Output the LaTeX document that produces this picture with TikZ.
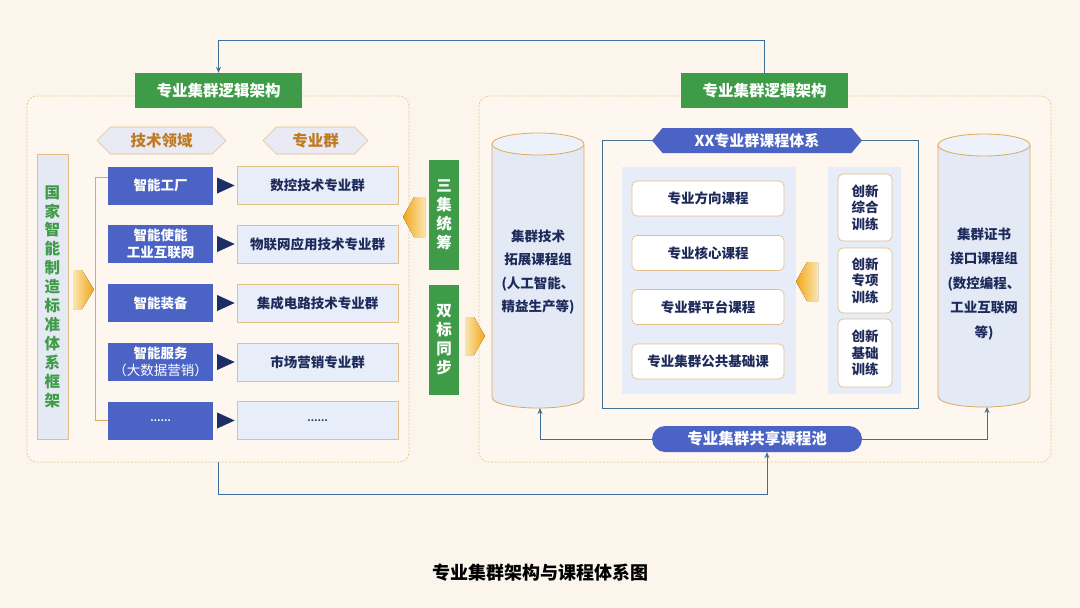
\documentclass[tikz,border=0pt]{standalone}
\usepackage{fontspec}
\setmainfont{Noto Sans CJK SC}
\usetikzlibrary{shapes.symbols,shapes.misc,arrows.meta,calc}
\definecolor{bg}{HTML}{FCF5EB}
\definecolor{panelbg}{HTML}{FDF7EF}
\definecolor{dashc}{HTML}{EBC690}
\definecolor{gr}{HTML}{3E9B48}
\definecolor{bl}{HTML}{4A63C4}
\definecolor{navy}{HTML}{1E2A5A}
\definecolor{tri}{HTML}{1B2E66}
\definecolor{lt}{HTML}{E8EEF9}
\definecolor{tanc}{HTML}{E3BE86}
\definecolor{hexfill}{HTML}{E9EAF4}
\definecolor{hextext}{HTML}{C07B22}
\definecolor{connc}{HTML}{3E6F9C}
\definecolor{framec}{HTML}{45708F}
\definecolor{innerbg}{HTML}{E6EDF8}
\definecolor{cylbd}{HTML}{E2A85A}
\definecolor{cylfill}{HTML}{E3EAF6}
\definecolor{cyltop}{HTML}{EDF1F9}
\definecolor{natfill}{HTML}{E4E9F3}
\definecolor{orA}{HTML}{FBE6B0}
\definecolor{orB}{HTML}{F2A516}
\tikzset{
  fs/.style={font=\bfseries\fontsize{#1}{#1}\selectfont},
  greenlab/.style={fill=gr,text=white,fs=15.5,minimum width=167pt,minimum height=35pt,inner sep=0pt},
  panel/.style={draw=dashc,dashed,dash pattern=on 2pt off 1.5pt,line width=0.7pt,fill=panelbg,rounded corners=10pt,inner sep=0pt},
  hexlab/.style={signal,signal to=west and east,fill=hexfill,draw=tanc,line width=0.6pt,text=hextext,fs=15.5,inner sep=0pt},
  bluebox/.style={fill=bl,text=white,fs=13.5,minimum width=105pt,minimum height=38pt,inner sep=0pt,align=center},
  grpbox/.style={fill=lt,draw=tanc,line width=0.7pt,text=navy,fs=13.5,minimum width=161pt,minimum height=38pt,inner sep=0pt},
  vgreen/.style={fill=gr,text=white,font=\bfseries\fontsize{15.5}{19}\selectfont,minimum width=30pt,minimum height=110pt,inner sep=0pt,align=center},
  coursebox/.style={fill=white,draw=tanc,line width=0.7pt,rounded corners=5pt,text=navy,fs=13.5,minimum width=152pt,minimum height=35pt,inner sep=0pt},
  innov/.style={fill=white,draw=tanc,line width=0.7pt,rounded corners=5pt,text=navy,font=\bfseries\fontsize{13.5}{16.5}\selectfont,minimum width=54pt,inner sep=0pt,align=center},
  cyltext/.style={text=navy,font=\bfseries\fontsize{13.5}{23.5}\selectfont,align=center},
  conn/.style={draw=connc,line width=0.9pt,-{Stealth[length=6pt,width=5pt]}},
  brk/.style={draw=cylbd,line width=0.7pt},
  chevR/.style={left color=orA,right color=orB,draw=none},
  chevL/.style={left color=orB,right color=orA,draw=none},
}
\begin{document}
\begin{tikzpicture}[x=1pt,y=-1pt]
\useasboundingbox (0,0) rectangle (1080,608);
\fill[bg] (0,0) rectangle (1080,608);

% panels
\node[panel,minimum width=382pt,minimum height=366pt] (lpanel) at (218,279) {};
\node[panel,minimum width=572pt,minimum height=366pt] (rpanel) at (765,279) {};

% top labels
\node[greenlab] (llab) at (218.5,90.5) {专业集群逻辑架构};
\node[greenlab] (rlab) at (764.5,90.5) {专业集群逻辑架构};

% header hexagons
\node[hexlab,minimum width=129pt,minimum height=27pt] (h1) at (161.5,140.5) {技术领域};
\node[hexlab,minimum width=105pt,minimum height=27pt] (h2) at (315.5,140.5) {专业群};

% national standard box
\node[fill=natfill,draw=tanc,line width=0.7pt,minimum width=31pt,minimum height=285pt,inner sep=0pt,
      text=gr,font=\bfseries\fontsize{15.5}{18.9}\selectfont,align=center] (natl) at (52.5,296.5)
      {国\\家\\智\\能\\制\\造\\标\\准\\体\\系\\框\\架};
\fill[chevR] (73,270) -- (82,270) -- (94,289.5) -- (82,309) -- (73,309) -- cycle;

% technology fields and groups
\node[bluebox] (b1) at (160.5,185.5) {智能工厂};
\node[bluebox,font=\bfseries\fontsize{13.5}{16.5}\selectfont] (b2) at (160.5,244) {智能使能\\工业互联网};
\node[bluebox] (b3) at (160.5,303) {智能装备};
\node[bluebox,font=\bfseries\fontsize{13.5}{16.5}\selectfont] (b4) at (160.5,362) {智能服务\\{\mdseries （大数据营销）}};
\node[bluebox,fs=9] (b5) at (160.5,420.5) {……};
\node[grpbox] (r1) at (317.5,185.5) {数控技术专业群};
\node[grpbox] (r2) at (317.5,244) {物联网应用技术专业群};
\node[grpbox] (r3) at (317.5,303) {集成电路技术专业群};
\node[grpbox] (r4) at (317.5,362) {市场营销专业群};
\node[grpbox,fs=9] (r5) at (317.5,420.5) {……};
\foreach \i in {1,...,5}{
  \fill[tri] ([xshift=4pt,yshift=8pt]b\i.east) -- ([xshift=-2pt]r\i.west) -- ([xshift=4pt,yshift=-8pt]b\i.east) -- cycle;
}
\draw[brk] ([yshift=8pt]b1.west) -- ++(-12,0) |- (b5.west);

% middle green boxes
\node[vgreen] (s1) at (444,215) {三\\集\\统\\筹};
\node[vgreen] (s2) at (444,340) {双\\标\\同\\步};
\fill[chevL] (403,217) -- (414,197) -- (425,197) -- (425,237) -- (414,237) -- cycle;
\fill[chevR] (465,317) -- (474,317) -- (485,336) -- (474,355) -- (465,355) -- cycle;

% left cylinder
\fill[cylfill] (492,144) rectangle (584,397);
\fill[cylfill] (492,397) .. controls (492,411.7) and (584,411.7) .. (584,397) -- cycle;
\draw[cylbd,line width=0.8pt] (492,144) -- (492,397) .. controls (492,411.7) and (584,411.7) .. (584,397) -- (584,144);
\draw[cylbd,line width=0.8pt,fill=cyltop] (538,144) ellipse [x radius=46pt,y radius=11pt];
\node[cyltext] (lcyl) at (538,272) {集群技术\\拓展课程组\\(人工智能、\\精益生产等)};
\coordinate (lcylb) at (540,408);

% right cylinder
\fill[cylfill] (938,145) rectangle (1030,396);
\fill[cylfill] (938,396) .. controls (938,410.7) and (1030,410.7) .. (1030,396) -- cycle;
\draw[cylbd,line width=0.8pt] (938,145) -- (938,396) .. controls (938,410.7) and (1030,410.7) .. (1030,396) -- (1030,145);
\draw[cylbd,line width=0.8pt,fill=cyltop] (984,145) ellipse [x radius=46pt,y radius=11pt];
\node[cyltext,font=\bfseries\fontsize{13.5}{24.5}\selectfont] (rcyl) at (984,284) {集群证书\\接口课程组\\(数控编程、\\工业互联网\\等)};
\coordinate (rcylb) at (987,407);

% course system frame
\node[draw=framec,line width=0.8pt,minimum width=316pt,minimum height=268pt,inner sep=0pt] (frame) at (760,274) {};
\node[fill=innerbg,minimum width=174pt,minimum height=227pt,inner sep=0pt] (ipl) at (709,280.5) {};
\node[fill=innerbg,minimum width=73pt,minimum height=227pt,inner sep=0pt] (ipr) at (864.5,280.5) {};
\node[hexlab,fill=bl,draw=none,text=white,fs=15,minimum width=210pt,minimum height=25pt,signal pointer angle=100] (xx) at (757,140.5) {XX专业群课程体系};

\node[coursebox] (c1) at (708,198.5) {专业方向课程};
\node[coursebox] (c2) at (708,253) {专业核心课程};
\node[coursebox] (c3) at (708,307) {专业群平台课程};
\node[coursebox] (c4) at (708,361.5) {专业集群公共基础课};

\node[innov,minimum height=67pt] (i1) at (865,207.5) {创新\\综合\\训练};
\node[innov,minimum height=65pt] (i2) at (865,280.5) {创新\\专项\\训练};
\node[innov,minimum height=68pt] (i3) at (865,353) {创新\\基础\\训练};
\fill[chevL] (796,281.5) -- (807,262) -- (818,262) -- (818,301) -- (807,301) -- cycle;

% shared pool
\node[rounded rectangle,fill=bl,text=white,fs=15.5,minimum width=210pt,minimum height=26pt,inner sep=0pt] (pool) at (757,439) {专业集群共享课程池};

% connectors
\draw[conn] (rlab.north) -- ++(0,-32) -| (llab.north);
\draw[conn] (llab.center |- lpanel.south) -- ++(0,32) -| ([xshift=10pt]pool.south);
\draw[conn] (pool.west) -| (lcylb);
\draw[conn] (pool.east) -| (rcylb);

% caption
\node[fs=18,text=black] (cap) at (540,573) {专业集群架构与课程体系图};
\end{tikzpicture}
\end{document}
